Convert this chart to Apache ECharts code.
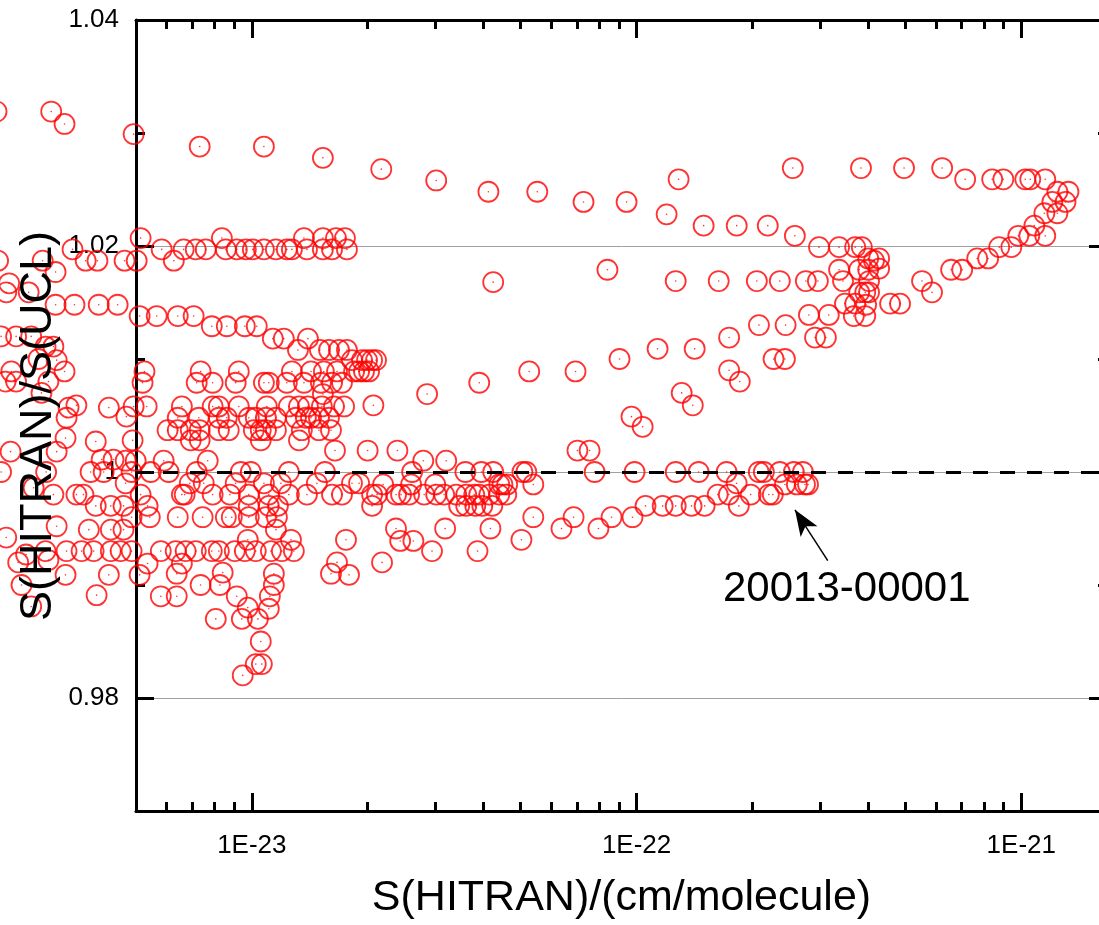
<!DOCTYPE html>
<html><head><meta charset="utf-8">
<script src="https://cdn.jsdelivr.net/npm/echarts@6/dist/echarts.min.js"></script>
<style>html,body{margin:0;padding:0;background:#fff;overflow:hidden;width:1099px;height:925px}#c{width:1120px;height:925px}</style>
</head><body><div id="c"></div><script>
// x values in units of 1e-23 cm/molecule, y = S(HITRAN)/S(UCL)
const X_UNIT = 1e-23;
const X_MIN = 5e-24, X_MAX = 1.67e-21, Y_MIN = 0.97, Y_MAX = 1.04;
const xMajorTicks = [1e-23, 1e-22, 1e-21];
const xMinorTicks = [6e-24,7e-24,8e-24,9e-24,2e-23,3e-23,4e-23,5e-23,6e-23,7e-23,8e-23,9e-23,2e-22,3e-22,4e-22,5e-22,6e-22,7e-22,8e-22,9e-22];
const yMajorTicks = [0.98, 1.00, 1.02, 1.04];
const yMinorTicks = [0.99, 1.01, 1.03];
const refLineY = 1.0;
const xTitle = 'S(HITRAN)/(cm/molecule)';
const yTitle = 'S(HITRAN)/S(UCL)';
const annotationText = '20013-00001';
const arrowTail = [31.4, 0.99216];
const arrowTip = [25.8, 0.99665];

const topArc = [[0.217,1.0319],[0.301,1.0319],[0.326,1.0308],[0.493,1.0299],[0.732,1.0288],[1.075,1.0288],[1.53,1.0278],[2.17,1.0268],[3.015,1.0258],[4.12,1.0248],[5.52,1.0248],[7.28,1.0239],[9.42,1.0239],[12.86,1.0259],[11.97,1.0228],[14.94,1.0218],[18.21,1.0218],[21.93,1.0218],[25.47,1.0269],[25.79,1.0209],[38.31,1.0269],[49.57,1.0269],[62.27,1.0269],[71.46,1.0259],[84.0,1.0259],[89.8,1.0259],[102.4,1.0259],[105.5,1.0259],[115.4,1.0259]];
const rightLoop = [[124.1,1.0248],[132.6,1.0248],[130.3,1.0239],[120.4,1.0239],[124.1,1.0229],[114.8,1.0229],[108.1,1.0218],[115.4,1.0209],[104.9,1.0209],[98.2,1.0209],[94.2,1.0199],[87.6,1.0199],[82.0,1.0189],[76.8,1.0189],[70.2,1.0179],[65.7,1.0179],[58.6,1.0159],[55.2,1.0169],[48.4,1.0149],[45.6,1.0149]];
const midCluster = [[29.8,1.0199],[33.6,1.0199],[37.0,1.0199],[38.5,1.0199],[40.0,1.0189],[42.7,1.0189],[41.4,1.0187],[42.7,1.0180],[33.6,1.0179],[37.9,1.0179],[40.0,1.0179],[40.2,1.0169],[37.9,1.0159],[39.3,1.0159],[40.2,1.0159],[39.5,1.0148],[34.8,1.0149],[37.0,1.0149],[36.7,1.0138],[39.3,1.0138]];
const midRows = [[12.64,1.0169],[16.35,1.0169],[20.54,1.0169],[23.57,1.0169],[27.54,1.0169],[29.6,1.0169],[34.4,1.0169],[28.05,1.0139],[31.6,1.0139],[20.8,1.0130],[24.4,1.0130],[29.1,1.0119],[31.05,1.0119],[17.4,1.0119],[11.34,1.0109],[14.16,1.0109],[9.03,1.0100],[22.7,1.0100],[24.3,1.0100],[17.4,1.0090],[18.55,1.0080],[13.1,1.0070],[14.0,1.0059],[9.70,1.0049],[10.37,1.0040],[8.4,1.0179],[4.24,1.0168],[6.94,1.0089],[5.26,1.0089],[3.90,1.0079],[2.855,1.0069],[2.07,1.0059],[7.02,1.0019],[7.55,1.0019]];
const bandRight = [[7.78,1.0],[9.88,1.0],[12.64,1.0],[14.5,1.0],[17.14,1.0],[20.78,1.0],[21.42,1.0],[23.57,1.0],[25.63,1.0],[27.06,1.0],[24.3,0.9989],[26.1,0.9989],[27.4,0.9989],[27.9,0.9989],[18.2,0.9990],[16.25,0.9980],[17.37,0.9980],[19.8,0.9980],[22.07,0.9980],[22.6,0.9980],[18.44,0.9970],[15.03,0.9970],[13.9,0.9970],[12.64,0.9970],[11.69,0.9970],[10.55,0.9970],[9.76,0.9960],[8.61,0.9960],[6.86,0.9960],[5.39,0.9960],[7.96,0.9950],[6.38,0.9950],[4.17,0.9950],[3.18,0.9950],[2.37,0.9950],[5.02,0.9940],[3.86,0.9930],[2.94,0.9930],[2.63,0.9939],[2.43,0.9939],[2.18,0.9920]];
const bandMid = [[2.0,1.0019],[2.39,1.0019],[1.645,1.0019],[2.79,1.0010],[3.2,1.0010],[2.61,1.0],[3.59,1.0],[3.95,1.0],[4.24,1.0],[5.05,1.0],[5.17,1.0],[5.39,0.9989],[2.194,0.9989],[2.594,0.9989],[2.997,0.9989],[4.397,0.9989],[4.48,0.9989],[4.61,0.9989],[2.054,0.998],[2.371,0.998],[2.443,0.998],[2.563,0.998],[2.805,0.998],[3.015,0.998],[3.162,0.998],[3.398,0.998],[3.608,0.998],[3.785,0.998],[3.90,0.998],[4.142,0.998],[4.397,0.998],[4.585,0.998],[2.054,0.997],[3.459,0.997],[3.608,0.997],[3.808,0.997],[3.972,0.997],[4.217,0.997]];
const leftUpper = [[0.342,1.0197],[0.583,1.0197],[0.665,1.0197],[0.715,1.0197],[0.759,1.0197],[0.856,1.0197],[0.914,1.0197],[0.965,1.0197],[1.006,1.0197],[1.075,1.0197],[1.155,1.0197],[1.233,1.0197],[1.271,1.0197],[1.391,1.0197],[1.530,1.0197],[1.616,1.0197],[1.767,1.0197],[0.514,1.0207],[0.836,1.0207],[1.366,1.0207],[1.530,1.0207],[1.655,1.0207],[1.746,1.0207],[0.219,1.0187],[0.286,1.0187],[0.370,1.0187],[0.397,1.0187],[0.467,1.0187],[0.502,1.0187],[0.627,1.0187],[0.309,1.0177],[0.234,1.0167],[0.263,1.0159],[0.230,1.0159],[0.309,1.0148],[0.346,1.0148],[0.400,1.0148],[0.448,1.0148],[0.511,1.0138],[0.566,1.0138],[0.642,1.0138],[0.706,1.0138],[0.787,1.0129],[0.861,1.0129],[0.959,1.0129],[1.030,1.0129],[1.134,1.0118],[1.211,1.0118],[1.399,1.0118],[1.318,1.0108],[1.503,1.0108],[1.587,1.0108],[1.685,1.0108],[1.767,1.0108],[1.821,1.0099],[1.934,1.0099],[1.993,1.0099],[2.054,1.0099],[2.103,1.0099],[1.844,1.0089],[1.900,1.0089],[1.957,1.0089],[2.017,1.0089]];
const leftMiddle = [[0.526,1.0089],[0.736,1.0089],[0.925,1.0089],[1.271,1.0089],[1.425,1.0089],[1.539,1.0089],[1.665,1.0089],[0.520,1.0079],[0.719,1.0079],[0.791,1.0079],[0.908,1.0079],[1.075,1.0079],[1.107,1.0079],[1.233,1.0079],[1.366,1.0079],[1.512,1.0079],[1.616,1.0079],[1.715,1.0079],[1.530,1.0069],[0.493,1.0058],[0.533,1.0058],[0.658,1.0058],[0.791,1.0058],[0.821,1.0058],[0.925,1.0058],[1.094,1.0058],[1.248,1.0058],[1.326,1.0058],[1.399,1.0058],[1.521,1.0058],[1.635,1.0058],[1.737,1.0058],[0.642,1.0048],[0.728,1.0048],[0.821,1.0048],[0.861,1.0048],[0.982,1.0048],[1.024,1.0048],[1.088,1.0048],[1.155,1.0048],[1.302,1.0048],[1.382,1.0048],[1.425,1.0048],[1.494,1.0048],[1.587,1.0048],[0.604,1.0037],[0.642,1.0037],[0.694,1.0037],[0.732,1.0037],[0.821,1.0037],[0.871,1.0037],[1.012,1.0037],[1.055,1.0037],[1.088,1.0037],[1.155,1.0037],[1.349,1.0037],[1.494,1.0037],[1.606,1.0037],[0.490,1.0028],[0.694,1.0028],[0.732,1.0028],[1.055,1.0028],[1.326,1.0028],[0.590,1.0010],[0.768,1.0010],[0.499,1.0010]];
const leftLower = [[0.487,1.0],[0.546,1.0],[0.608,1.0],[0.719,1.0],[0.936,1.0],[0.994,1.0],[1.248,1.0],[1.549,1.0],[0.690,0.999],[0.750,0.999],[0.908,0.999],[1.075,0.999],[1.190,0.999],[1.476,0.999],[1.821,0.999],[1.900,0.999],[0.514,0.998],[0.658,0.998],[0.669,0.998],[0.791,0.998],[0.877,0.998],[0.982,0.998],[1.107,0.998],[1.248,0.998],[1.391,0.998],[1.616,0.998],[1.715,0.998],[2.116,0.998],[0.536,0.997],[0.982,0.997],[1.107,0.997],[1.169,0.997],[0.487,0.996],[0.543,0.996],[0.642,0.996],[0.745,0.996],[0.856,0.996],[0.887,0.996],[0.982,0.996],[1.088,0.996],[1.162,0.996],[1.155,0.9949],[0.976,0.9940],[1.264,0.9940],[0.487,0.993],[0.580,0.993],[0.634,0.993],[0.673,0.993],[0.715,0.993],[0.787,0.993],[0.821,0.993],[0.903,0.993],[0.959,0.993],[1.024,0.993],[1.121,0.993],[1.197,0.993],[1.286,0.993],[0.536,0.9919],[0.658,0.9919],[0.511,0.9909],[0.638,0.9910],[0.840,0.9911],[1.141,0.9910],[1.757,0.9940],[1.665,0.9920],[1.606,0.9910],[1.789,0.9909],[0.736,0.9900],[0.826,0.9900],[1.141,0.9900],[0.580,0.9890],[0.638,0.9890],[0.914,0.9890],[1.114,0.9890],[0.976,0.9880],[1.107,0.9879],[0.806,0.9870],[0.942,0.9870],[1.037,0.9870],[1.055,0.9850],[1.024,0.9830],[1.062,0.9830],[0.947,0.9820]];
const farLeft = [[0.223,1.0120],[0.244,1.0120],[0.267,1.0120],[0.291,1.0111],[0.305,1.0111],[0.279,1.0100],[0.311,1.0099],[0.326,1.0089],[0.237,1.0089],[0.229,1.0080],[0.244,1.0080],[0.296,1.0080],[0.284,1.0070],[0.334,1.0057],[0.350,1.0059],[0.425,1.0057],[0.330,1.0048],[0.472,1.0049],[0.328,1.0030],[0.393,1.0027],[0.236,1.0018],[0.311,1.0018],[0.407,1.0011],[0.437,1.0011],[0.470,1.0010],[0.223,1.0],[0.292,1.0],[0.381,1.0],[0.412,1.0],[0.470,0.9990],[0.271,0.9986],[0.305,0.9980],[0.350,0.9980],[0.365,0.9980],[0.393,0.9970],[0.430,0.9970],[0.464,0.9970],[0.377,0.9949],[0.430,0.9949],[0.464,0.9949],[0.311,0.9952],[0.230,0.9942],[0.291,0.9930],[0.330,0.9930],[0.361,0.9930],[0.388,0.9930],[0.430,0.9930],[0.456,0.9930],[0.259,0.9927],[0.247,0.9920],[0.296,0.9922],[0.328,0.9909],[0.425,0.9909],[0.252,0.9900],[0.395,0.9891],[0.267,0.9881]];

const allPoints = [].concat(topArc, rightLoop, midCluster, midRows, bandRight, bandMid, leftUpper, leftMiddle, leftLower, farLeft)
  .map(p => [p[0] * X_UNIT, p[1]]);

const FONT = '"Liberation Sans", Arial, sans-serif';
const lg = v => Math.log10(v);
const LX_MIN = lg(X_MIN), LX_MAX = lg(X_MAX);

function xDeco(position, ticks, len, showLine, showLabel, extra) {
  return Object.assign({
    type: 'value', position: position, min: LX_MIN, max: LX_MAX, gridIndex: 0,
    axisLine: { show: showLine, onZero: false, lineStyle: { color: '#000', width: 3 } },
    axisTick: { show: true, inside: true, length: len, customValues: ticks.map(lg), lineStyle: { color: '#000', width: 3 } },
    axisLabel: showLabel ? { show: true, customValues: ticks.map(lg), margin: 22, fontSize: 26, fontFamily: FONT, color: '#000',
      formatter: v => '1E' + Math.round(v) } : { show: false },
    splitLine: { show: false }
  }, extra || {});
}
function yDeco(position, ticks, len, showLine, showLabel, showSplit, extra) {
  return Object.assign({
    type: 'value', position: position, min: Y_MIN, max: Y_MAX, offset: 0,
    axisLine: { show: showLine, onZero: false, lineStyle: { color: '#000', width: 3 } },
    axisTick: { show: true, inside: true, length: len, customValues: ticks, lineStyle: { color: '#000', width: 3 } },
    axisLabel: showLabel ? { show: true, customValues: ticks, margin: 17, fontSize: 26, fontFamily: FONT, color: '#000',
      formatter: v => String(+v.toFixed(2)) } : { show: false },
    splitLine: { show: showSplit, lineStyle: { color: '#a0a0a0', width: 1 } }
  }, extra || {});
}

const chart = echarts.init(document.getElementById('c'), null, { renderer: 'canvas' });
chart.setOption({
  animation: false,
  backgroundColor: '#fff',
  grid: { left: 136, top: 20, right: 13, bottom: 112, containLabel: false },
  xAxis: [
    { type: 'log', logBase: 10, min: X_MIN, max: X_MAX, show: false },
    xDeco('bottom', xMajorTicks, 18, true, true, {
      name: xTitle, nameLocation: 'middle', nameGap: 66,
      nameTextStyle: { fontSize: 43, fontFamily: FONT, color: '#000' } }),
    xDeco('bottom', xMinorTicks, 9, false, false),
    xDeco('top', xMajorTicks, 18, true, false),
    xDeco('top', xMinorTicks, 9, false, false)
  ],
  yAxis: [
    yDeco('left', yMajorTicks, 18, true, true, true),
    yDeco('left', yMinorTicks, 9, false, false, false),
    yDeco('right', yMajorTicks, 18, true, false, false),
    yDeco('right', yMinorTicks, 9, false, false, false)
  ],
  series: [
    {
      type: 'scatter', xAxisIndex: 0, yAxisIndex: 0, clip: false, large: false,
      symbol: 'circle', symbolSize: 20,
      itemStyle: { color: 'rgba(0,0,0,0)', borderColor: '#ff0000', borderWidth: 1.8 },
      emphasis: { disabled: true },
      data: allPoints,
      markLine: {
        silent: true, animation: false, symbol: ['none', 'none'], label: { show: false },
        emphasis: { disabled: true },
        data: [
          { yAxis: refLineY, lineStyle: { color: '#000', width: 3, type: [15, 12] } },
          [
            { coord: [arrowTail[0] * X_UNIT, arrowTail[1]], symbol: 'none', lineStyle: { color: '#000', width: 1.5, type: 'solid' } },
            { coord: [arrowTip[0] * X_UNIT, arrowTip[1]], symbol: 'arrow', symbolSize: [15, 26], lineStyle: { color: '#000', width: 1.5, type: 'solid' } }
          ]
        ]
      }
    },
    {
      type: 'scatter', xAxisIndex: 0, yAxisIndex: 0, clip: false, large: false,
      symbol: 'circle', symbolSize: 1.6,
      itemStyle: { color: '#ff0000' },
      emphasis: { disabled: true },
      data: allPoints
    }
  ],
  graphic: [
    { type: 'text', left: 723, top: 568, z: 100,
      style: { text: annotationText, font: '42px ' + FONT, fill: '#000' } },
    { type: 'text', x: 39, y: 426, rotation: Math.PI / 2, z: 100,
      style: { text: yTitle, font: '45px ' + FONT, fill: '#000', align: 'center', verticalAlign: 'middle' } }
  ]
});
</script></body></html>
